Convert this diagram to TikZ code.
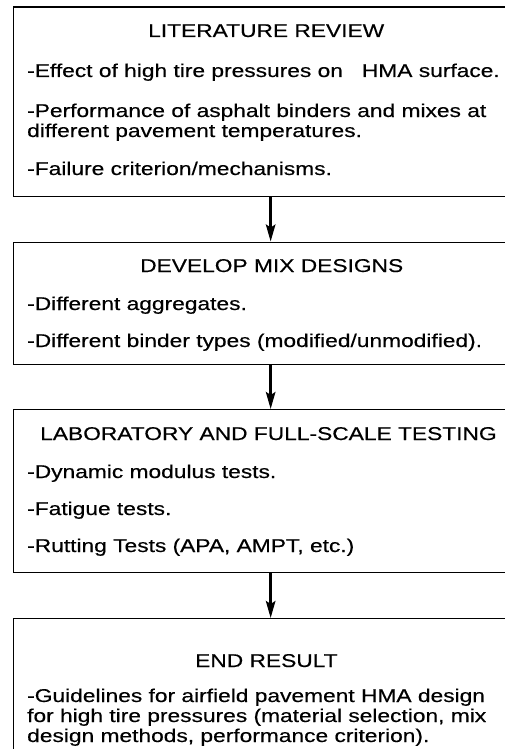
\documentclass[tikz,border=0pt]{standalone}
\usepackage{fontspec}
\setmainfont[FakeStretch=1.23,FakeBold=0.4]{Liberation Sans}
\usetikzlibrary{arrows.meta}
\begin{document}
\begin{tikzpicture}[x=1pt,y=-1pt,
  box/.style={draw=black,line width=1.3pt,minimum width=514pt,anchor=north west,inner sep=0pt},
  txt/.style={anchor=base west,inner sep=0pt,align=left,font=\fontsize{18.5}{20}\selectfont},
  flow/.style={line width=2.4pt,-{Stealth[length=17pt,width=9.5pt,inset=3pt]}}]
\clip (0,0) rectangle (505,749);
\fill[white] (0,0) rectangle (505,749);
\node[box,minimum height=189pt] (b1) at (13,6.5) {};
\node[box,minimum height=122pt] (b2) at (13,241.5) {};
\node[box,minimum height=163pt] (b3) at (13,409) {};
\node[box,minimum height=160pt] (b4) at (13,618) {};
\draw[flow] (b1.south) -- (b2.north);
\draw[flow] (b2.south) -- (b3.north);
\draw[flow] (b3.south) -- (b4.north);
% box 1 (multi-line nodes are anchored at the baseline of their last line)
\node[txt] (t1) at (148,37) {LITERATURE REVIEW};
\node[txt] (t1a) at (27,77) {-Effect of high tire pressures on \ \ HMA surface.};
\node[txt] (t1b) at (27,137) {-Performance of asphalt binders and mixes at\\different pavement temperatures.};
\node[txt] (t1c) at (27,175) {-Failure criterion/mechanisms.};
% box 2
\node[txt] (t2) at (140,272) {DEVELOP MIX DESIGNS};
\node[txt] (t2a) at (27,310) {-Different aggregates.};
\node[txt] (t2b) at (27,347) {-Different binder types (modified/unmodified).};
% box 3
\node[txt] (t3) at (40,440) {LABORATORY AND FULL-SCALE TESTING};
\node[txt] (t3a) at (27,478) {-Dynamic modulus tests.};
\node[txt] (t3b) at (27,515) {-Fatigue tests.};
\node[txt] (t3c) at (27,552) {-Rutting Tests (APA, AMPT, etc.)};
% box 4
\node[txt] (t4) at (195,667) {END RESULT};
\node[txt] (t4a) at (27,742) {-Guidelines for airfield pavement HMA design\\for high tire pressures (material selection, mix\\design methods, performance criterion).};
\end{tikzpicture}
\end{document}
